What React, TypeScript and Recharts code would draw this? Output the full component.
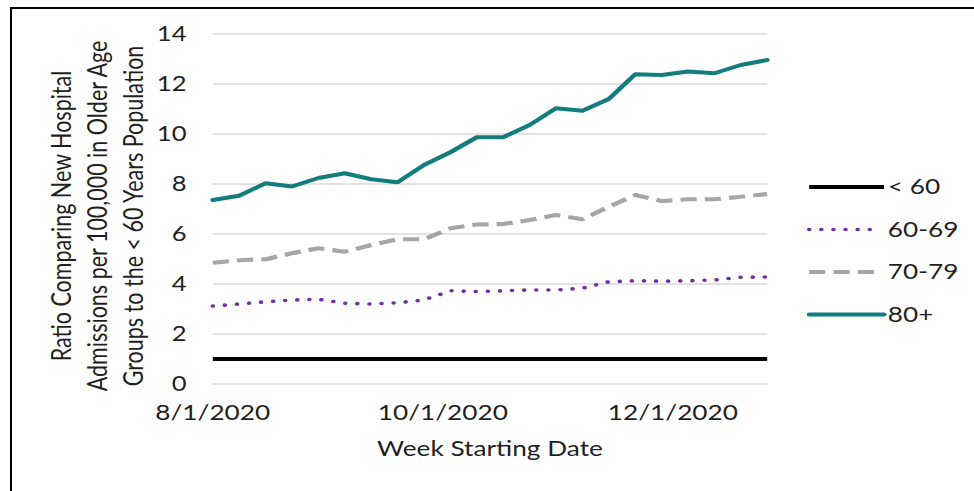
import { LineChart, Line, XAxis, YAxis, CartesianGrid, Legend } from "recharts";

// week starting dates (M/D/YYYY)
const weeks = [
  "8/1/2020", "8/8/2020", "8/15/2020", "8/22/2020", "8/29/2020", "9/5/2020",
  "9/12/2020", "9/19/2020", "9/26/2020", "10/3/2020", "10/10/2020", "10/17/2020",
  "10/24/2020", "10/31/2020", "11/7/2020", "11/14/2020", "11/21/2020", "11/28/2020",
  "12/5/2020", "12/12/2020", "12/19/2020", "12/26/2020",
];
const under60 = [1, 1, 1, 1, 1, 1, 1, 1, 1, 1, 1, 1, 1, 1, 1, 1, 1, 1, 1, 1, 1, 1];
const age60to69 = [
  3.12, 3.2, 3.29, 3.36, 3.39, 3.23, 3.2, 3.25, 3.36, 3.73, 3.7,
  3.73, 3.76, 3.76, 3.83, 4.09, 4.13, 4.11, 4.13, 4.16, 4.27, 4.28,
];
const age70to79 = [
  4.85, 4.95, 4.99, 5.23, 5.43, 5.29, 5.56, 5.79, 5.79, 6.23, 6.38,
  6.4, 6.56, 6.76, 6.59, 7.09, 7.56, 7.32, 7.39, 7.39, 7.49, 7.6,
];
const age80plus = [
  7.36, 7.53, 8.03, 7.9, 8.24, 8.43, 8.19, 8.07, 8.76, 9.27, 9.87,
  9.87, 10.36, 11.03, 10.93, 11.4, 12.39, 12.36, 12.5, 12.43, 12.76, 12.96,
];
const xTickLabels = ["8/1/2020", "10/1/2020", "12/1/2020"];
const yTicks = [0, 2, 4, 6, 8, 10, 12, 14];

const FONT = "Lato, 'Open Sans', sans-serif";
const TEXT = "#1f1f1f";

// the reference is stretched sideways; draw narrow and scale
const W = 780;
const H = 491;
const SX = 974 / W;

const toDay = (s: string) => {
  const [m, d, y] = s.split("/").map(Number);
  return Date.UTC(y, m - 1, d) / 86400000;
};
const fmtDay = (v: number) => {
  const d = new Date(v * 86400000);
  return `${d.getUTCMonth() + 1}/${d.getUTCDate()}/${d.getUTCFullYear()}`;
};

const data = weeks.map((w, i) => ({
  day: toDay(w),
  u60: under60[i],
  a60: age60to69[i],
  a70: age70to79[i],
  a80: age80plus[i],
}));

const series = [
  { key: "u60", name: "< 60", color: "#000000", width: 4, dash: undefined, cap: "butt" },
  { key: "a60", name: "60-69", color: "#7030A0", width: 3.6, dash: "0.1 9.6", cap: "round" },
  { key: "a70", name: "70-79", color: "#A6A6A6", width: 4.2, dash: "13 6.5", cap: "butt" },
  { key: "a80", name: "80+", color: "#137C7C", width: 4, dash: undefined, cap: "round" },
];

function LegendBox() {
  return (
    <svg width={140} height={170}>
      {series.map((s, i) => {
        const y = 27 + i * 42.5;
        return (
          <g key={s.key}>
            <line
              x1={2}
              x2={s.dash ? 58 : 62}
              y1={y}
              y2={y}
              stroke={s.color}
              strokeWidth={s.width}
              strokeDasharray={s.dash}
              strokeLinecap={s.cap as any}
            />
            <text x={65} y={y + 7.5} fontSize={21} fontFamily={FONT} fill={TEXT}>
              {s.name}
            </text>
          </g>
        );
      })}
    </svg>
  );
}

function YTitle() {
  const cy = 216;
  const cx = 86;
  return (
    <text
      x={cx}
      y={cy}
      transform={`rotate(-90 ${cx} ${cy})`}
      textAnchor="middle"
      fontSize={21.5}
      fontFamily={FONT}
      fill={TEXT}
    >
      <tspan x={cx} dy={-28.8}>Ratio Comparing New Hospital</tspan>
      <tspan x={cx} dy={28.8}>Admissions  per 100,000 in Older Age</tspan>
      <tspan x={cx} dy={28.8}>Groups to the &lt; 60 Years Population</tspan>
    </text>
  );
}

export default function App() {
  return (
    <div style={{ position: "absolute", left: 0, top: 0, width: 974, height: H, background: "#fff", overflow: "hidden" }}>
      <div
        style={{
          position: "absolute",
          left: 10,
          top: 7,
          width: 1000,
          height: 600,
          borderTop: "2px solid #000",
          borderLeft: "2px solid #000",
        }}
      />
      <div style={{ position: "absolute", left: 0, top: 0, transform: `scaleX(${SX})`, transformOrigin: "0 0" }}>
        <LineChart
          width={W}
          height={H}
          data={data}
          margin={{ top: 34, right: 165.6, bottom: 0, left: 110.4 }}
        >
          <CartesianGrid vertical={false} stroke="#D9D9D9" strokeWidth={1.6} />
          <XAxis
            dataKey="day"
            type="number"
            domain={[toDay(weeks[0]), toDay(weeks[weeks.length - 1])]}
            ticks={xTickLabels.map(toDay)}
            tickFormatter={fmtDay}
            axisLine={false}
            tickLine={false}
            tickSize={6}
            tickMargin={15}
            height={107}
            tick={{ fontSize: 21, fontFamily: FONT, fill: TEXT }}
            label={{
              value: "Week Starting Date",
              position: "insideTop",
              offset: 57,
              fontSize: 21,
              fontFamily: FONT,
              fill: TEXT,
            }}
          />
          <YAxis
            domain={[0, 14]}
            ticks={yTicks}
            width={60}
            axisLine={false}
            tickLine={false}
            tickSize={6}
            tickMargin={15}
            tick={{ fontSize: 20.5, fontFamily: FONT, fill: TEXT }}
            label={<YTitle />}
          />
          {series.map((s) => (
            <Line
              key={s.key}
              type="linear"
              dataKey={s.key}
              name={s.name}
              stroke={s.color}
              strokeWidth={s.width}
              strokeDasharray={s.dash}
              strokeLinecap={s.cap as any}
              strokeLinejoin="round"
              dot={false}
              activeDot={false}
              isAnimationActive={false}
            />
          ))}
          <Legend
            layout="vertical"
            align="center"
            verticalAlign="middle"
            content={() => <LegendBox />}
            wrapperStyle={{ position: "absolute", left: 646, top: 160, width: 140, height: 170 }}
          />
        </LineChart>
      </div>
    </div>
  );
}
